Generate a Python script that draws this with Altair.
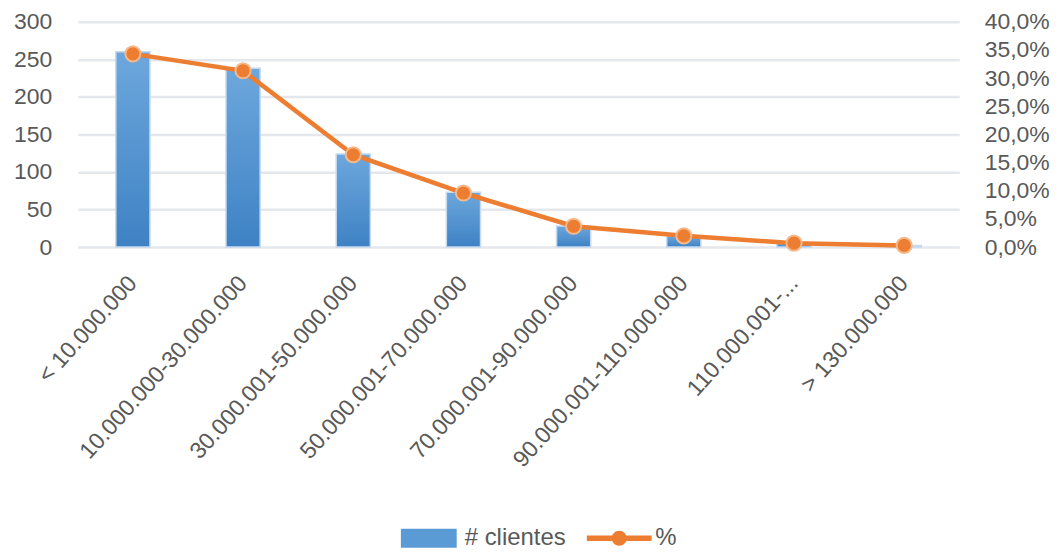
import altair as alt
import pandas as pd

rangos = ["< 10.000.000", "10.000.000-30.000.000", "30.000.001-50.000.000",
          "50.000.001-70.000.000", "70.000.001-90.000.000", "90.000.001-110.000.000",
          "110.000.001-...", "> 130.000.000"]
clientes = [260, 238, 124, 73, 28, 15, 5, 2]
porcentaje = [34.3, 31.3, 16.4, 9.6, 3.7, 2.0, 0.7, 0.3]
series = ["# clientes", "%"]
left_ticks = [0, 50, 100, 150, 200, 250, 300]
right_ticks = [0, 5, 10, 15, 20, 25, 30, 35, 40]

df = pd.DataFrame({"rango": rangos, "clientes": clientes, "pct": porcentaje,
                   "serie": ["# clientes"] * len(rangos)})

FONT = "Liberation Sans"
TXT = "#595959"
BLUE = "#5B9BD5"
ORANGE = "#ED7D31"

x = alt.X("rango:N", sort=rangos, title=None,
          scale=alt.Scale(paddingInner=0.69, paddingOuter=0.345),
          axis=alt.Axis(labelAngle=-48, labelAlign="right", labelBaseline="middle",
                        labelPadding=32, ticks=False, domain=False, labelFontSize=23,
                        labelColor=TXT, labelFont=FONT, labelLimit=400))

base = alt.Chart(df)

grad = alt.Gradient(gradient="linear", x1=0, x2=0, y1=0, y2=1,
                    stops=[alt.GradientStop(color="#6DA7DD", offset=0),
                           alt.GradientStop(color="#3E82C4", offset=1)])

bars = base.mark_bar(color=grad, stroke="#C5DAEF", strokeWidth=1.5).encode(
    x=x,
    y=alt.Y("clientes:Q", title=None,
            scale=alt.Scale(domain=[0, 300], nice=False),
            axis=alt.Axis(values=left_ticks, grid=True, gridColor="#E4E7EC", gridWidth=2.5,
                          ticks=False, domain=False, labelPadding=26, labelFontSize=23,
                          labelColor=TXT, labelFont=FONT)),
)

line = base.mark_line(color=ORANGE, strokeWidth=4.5).encode(
    x=x,
    y=alt.Y("pct:Q", title=None,
            scale=alt.Scale(domain=[0, 40], nice=False),
            axis=alt.Axis(orient="right", values=right_ticks, grid=False, ticks=False,
                          domain=False, labelPadding=25, labelFontSize=23, labelAlign="left",
                          labelColor=TXT, labelFont=FONT,
                          labelExpr="replace(format(datum.value, '.1f'), '.', ',') + '%'")),
)

pts = base.mark_point(filled=True, color=ORANGE, size=230, stroke="#F6B98C",
                      strokeWidth=2, opacity=1).encode(
    x=x,
    y=alt.Y("pct:Q", scale=alt.Scale(domain=[0, 40], nice=False), axis=None),
)

rect_path = "M-2.8,-0.95H2.8V0.95H-2.8Z"
line_path = ("M-3.25,-0.28H3.25V0.28H-3.25Z "
             "M0.75,0A0.75,0.75,0,1,1,-0.75,0A0.75,0.75,0,1,1,0.75,0Z")

leg = alt.Legend(orient="none", legendX=340, legendY=506, direction="horizontal",
                 title=None, labelFontSize=24, labelColor=TXT, labelFont=FONT,
                 symbolSize=400, symbolStrokeWidth=0, labelOffset=24, columnPadding=20)

legend_layer = base.transform_filter("false").mark_point(filled=True, opacity=1).encode(
    color=alt.Color("serie:N", scale=alt.Scale(domain=series, range=[BLUE, ORANGE]), legend=leg),
    shape=alt.Shape("serie:N", scale=alt.Scale(domain=series, range=[rect_path, line_path]), legend=leg),
)

chart = alt.layer(bars, line, pts, legend_layer).resolve_scale(
    y="independent"
).properties(
    width=884, height=226,
    padding={"left": 5, "top": 2, "right": 0, "bottom": 0},
    background="white",
).configure_view(stroke=None)

chart.save("out.html", embed_options={"renderer": "svg", "actions": False})
